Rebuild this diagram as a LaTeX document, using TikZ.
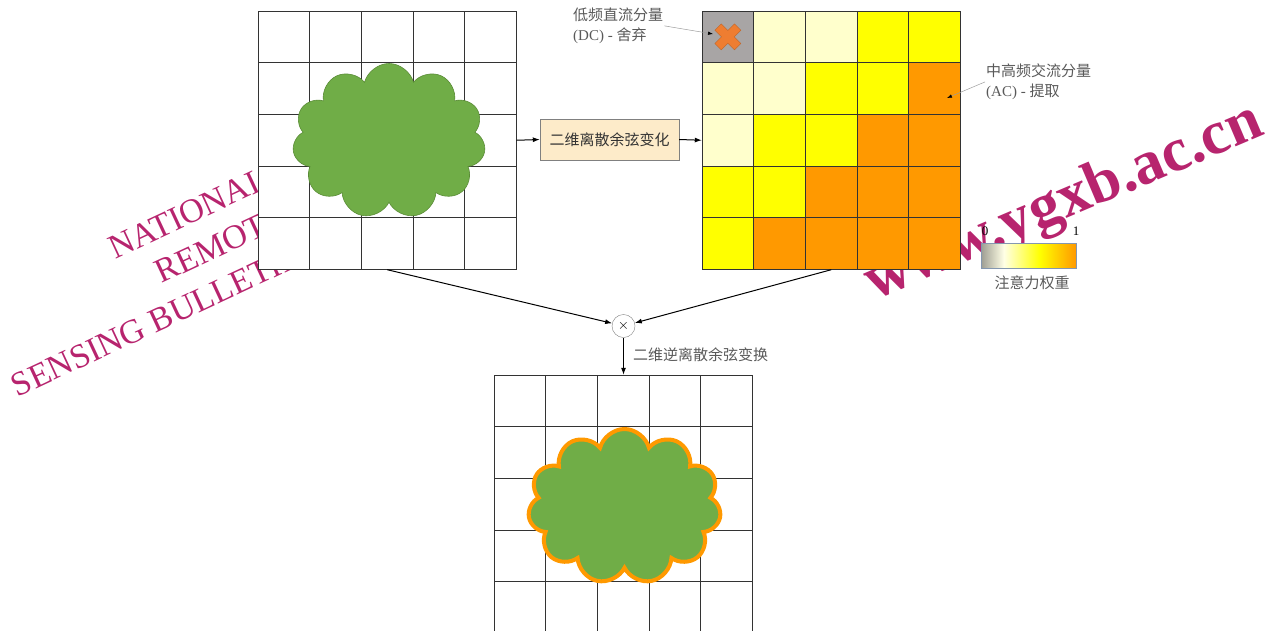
\documentclass[tikz,border=0pt]{standalone}
\usepackage{fontspec}
\setmainfont{Liberation Serif}
\newfontfamily\cjk{Noto Sans CJK SC}
\usetikzlibrary{positioning,arrows.meta,shapes.symbols}

\definecolor{leaf}{HTML}{70AD47}
\definecolor{leafedge}{HTML}{5A8C36}
\definecolor{dcgray}{HTML}{A8A5A5}
\definecolor{pale}{HTML}{FFFFCC}
\definecolor{yel}{HTML}{FFFF00}
\definecolor{orng}{HTML}{FF9900}
\definecolor{xorange}{HTML}{EE7D31}
\definecolor{peach}{HTML}{FDEBC9}
\definecolor{notegray}{HTML}{595959}
\definecolor{gridline}{HTML}{333333}
\definecolor{barleft}{HTML}{9E9D92}
\definecolor{barline}{HTML}{8497B0}
\definecolor{wmarkred}{HTML}{B7246E}

% attention colour bar (25bp..75bp is stretched over the node)
\pgfdeclarehorizontalshading{attn}{100bp}{color(0bp)=(barleft); color(25bp)=(barleft);
  color(37bp)=(pale!50!white); color(56bp)=(yel); color(75bp)=(orng); color(100bp)=(orng)}

\tikzset{
  cell/.style={draw=gridline, line width=0.9pt, minimum size=51.7pt,
               inner sep=0pt, outer sep=0pt},
  frame/.style={minimum width=258.5pt, minimum height=258.5pt, inner sep=0pt},
  op/.style={draw=gray, fill=peach, minimum width=139pt, minimum height=41pt,
             inner sep=0pt, font=\cjk\fontsize{15}{18}\selectfont, text=black!80},
  flow/.style={-{Latex[length=7pt,width=5pt]}, line width=1pt},
  ptr/.style={draw=notegray!60, line width=0.5pt,
              -{Latex[length=5pt,width=3.5pt,color=black]}},
  lbl/.style={text=notegray, font=\fontsize{15}{19.5}\selectfont, align=left,
              inner sep=1pt},
  blob/.style={cloud, cloud puffs=11, aspect=1.25, minimum width=193pt,
               minimum height=155pt, fill=leaf},
  wmark/.style={text=wmarkred, inner sep=0pt},
  tick/.style={font=\fontsize{13}{13}\selectfont, inner sep=0pt},
}

\begin{document}
\begin{tikzpicture}[x=1pt, y=-1pt]
  \useasboundingbox (0,0) rectangle (1273,630);

  % watermark, under everything
  \node[wmark, rotate=25, anchor=south west, align=right,
        font=\fontsize{34}{42}\selectfont] (nrsb) at (18,398)
        {NATIONAL\\REMOTE\\SENSING BULLETIN};
  \node[wmark, rotate=23, anchor=base east, font=\fontsize{62}{62}\selectfont\bfseries]
        (site) at (1266,134) {www.ygxb.ac.cn};

  % input image
  \node[frame] (src) at (387.25,140.25) {};
  \foreach \r in {0,...,4}
    \foreach \c in {0,...,4}
      \node[cell, fill=white] (s-\r-\c) at ({258+25.85+51.7*\c},{11+25.85+51.7*\r}) {};
  \node[blob, draw=leafedge, line width=0.6pt] (leafin) at (389,141) {};

  % DCT coefficients with attention weights
  \node[frame] (coef) at (831.25,140.25) {};
  \foreach \row [count=\r from 0] in {{dcgray,pale,pale,yel,yel},
                                      {pale,pale,yel,yel,orng},
                                      {pale,yel,yel,orng,orng},
                                      {yel,yel,orng,orng,orng},
                                      {yel,orng,orng,orng,orng}}
    \foreach \tone [count=\c from 0] in \row
      \node[cell, fill=\tone] (k-\r-\c) at ({702+25.85+51.7*\c},{11+25.85+51.7*\r}) {};

  % DC term is dropped
  \begin{scope}[shift={(k-0-0.center)}, rotate=45]
    \filldraw[fill=xorange, draw=xorange!80!black, line width=0.4pt]
      (-4.5,-13.9) -- (4.5,-13.9) -- (4.5,-4.5) -- (13.9,-4.5) -- (13.9,4.5)
      -- (4.5,4.5) -- (4.5,13.9) -- (-4.5,13.9) -- (-4.5,4.5) -- (-13.9,4.5)
      -- (-13.9,-4.5) -- (-4.5,-4.5) -- cycle;
  \end{scope}

  \node[op] (dct) at (609.5,139.5) {二维离散余弦变化};

  % notes
  \node[lbl, anchor=north west] (dcnote) at (572,7)
       {{\cjk 低频直流分量}\\(DC) - {\cjk 舍弃}};
  \node[lbl, anchor=north west] (acnote) at (985,63)
       {{\cjk 中高频交流分量}\\(AC) - {\cjk 提取}};
  \coordinate (dctip) at (713,34);
  \coordinate (actip) at (947,98);
  \draw[ptr] (dcnote.east) -- (dctip);
  \draw[ptr] (acnote.west) -- (actip);

  % colour bar
  \node[draw=barline, line width=0.8pt, shading=attn, minimum width=95pt,
        minimum height=25pt, inner sep=0pt] (bar) at (1028.5,255.5) {};
  \node[tick] (lo) at (985,231) {0};
  \node[tick] (hi) at (1076,231) {1};
  \node[lbl] (bartitle) at (1032,283) {\cjk 注意力权重};

  % weighting and inverse transform
  \node[draw=gray, circle, minimum size=23pt, inner sep=0pt,
        font=\fontsize{14}{14}\selectfont] (mul) at (623.5,326) {$\times$};
  \node[lbl, anchor=west] (idct) at (632,355) {\cjk 二维逆离散余弦变换};

  % output image
  \node[frame] (out) at (623.25,504.25) {};
  \foreach \r in {0,...,4}
    \foreach \c in {0,...,4}
      \node[cell, fill=white] (o-\r-\c) at ({494+25.85+51.7*\c},{375+25.85+51.7*\r}) {};
  \node[blob, draw=orng, line width=4pt] (leafout) at (624.5,506.5) {};

  % flows
  \draw[flow] (src.east) -- (dct.west);
  \draw[flow] (dct.east) -- (coef.west);
  \draw[flow] (src.south) -- (mul);
  \draw[flow] (coef.south) -- (mul);
  \draw[flow] (mul) -- (mul |- out.north);

\end{tikzpicture}
\end{document}
